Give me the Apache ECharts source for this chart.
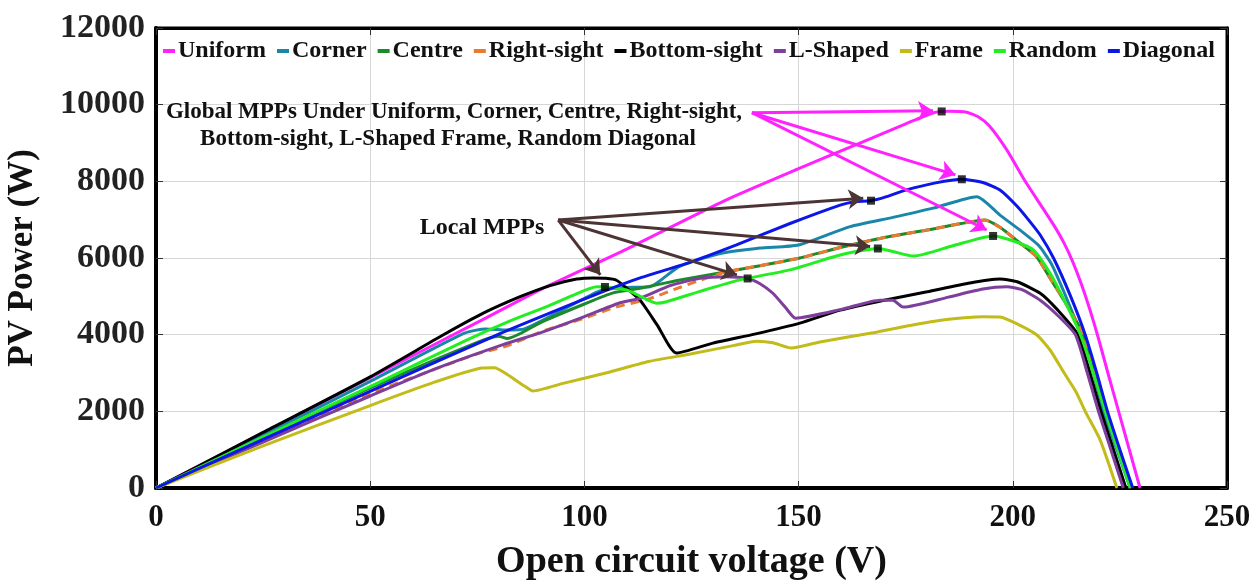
<!DOCTYPE html>
<html>
<head>
<meta charset="utf-8">
<title>PV Power vs Voltage</title>
<script src="https://cdn.jsdelivr.net/npm/echarts@6/dist/echarts.min.js"></script>
<style>
  html, body { margin: 0; padding: 0; background: #ffffff; }
  #chart { width: 1256px; height: 581px; }
</style>
</head>
<body>
<div id="chart"></div>
<script>
// ---- P–V curves for each shading pattern: [voltage (V), power (W)] ----
const uniformPts = [[0,0],[25,1440],[50,2880],[75,4320],[90,5190],[110,6240],[133,7510],[150,8330],[165,9030],[175,9500],[181.5,9790],[185,9830],[189,9810],[192,9680],[194.5,9450],[198.6,8820],[202.9,8000],[207,7300],[210,6780],[212,6380],[214,5900],[216,5320],[218,4650],[220,3900],[222.2,3000],[224.7,2000],[227.2,1000],[229.7,0]];
const cornerPts = [[0,0],[25,1380],[50,2780],[72,4040],[77,4150],[82,4120],[86,4150],[95,4650],[103.6,5140],[109,5230],[115.3,5250],[122,5770],[131,6100],[141,6260],[150,6340],[162,6820],[172,7060],[181.4,7300],[191.6,7600],[197,7120],[202,6700],[206,6330],[209,5850],[212,5100],[214.2,4500],[216.1,4000],[218.8,3000],[221.2,2000],[224.3,1000],[227.4,0]];
const centrePts = [[0,0],[25,1310],[50,2610],[75,3800],[80,3960],[82,3900],[90,4330],[100,4800],[106.7,5090],[113,5210],[122,5420],[133.2,5640],[141,5800],[150.3,6000],[160,6280],[169,6510],[180,6730],[188,6900],[193.5,6990],[197,6800],[201,6450],[205.5,6040],[209,5420],[213,4700],[216.5,4000],[219.2,3000],[221.8,2000],[224.7,1000],[227.6,0]];
const rightSightPts = [[0,0],[25,1240],[50,2460],[75,3500],[81.8,3700],[90,4080],[100,4430],[106.7,4700],[115,4930],[121,5180],[127,5420],[133.2,5640],[141,5800],[150.3,6000],[160,6280],[169,6510],[180,6730],[188,6900],[193.5,6990],[197,6800],[201,6450],[205.5,6040],[209,5420],[213,4700],[216.5,4000],[219.2,3000],[221.8,2000],[224.7,1000],[227.6,0]];
const bottomSightPts = [[0,0],[25,1450],[50,2900],[67,3990],[76.4,4560],[85,4990],[92,5280],[98.2,5450],[102,5480],[105,5470],[107.5,5420],[110,5200],[113,4900],[117,4250],[121.5,3520],[130,3780],[140,4020],[150.3,4300],[159.7,4640],[170,4900],[180,5120],[190,5350],[197,5450],[201,5380],[206.4,5080],[210.5,4640],[215.2,4000],[218,3000],[220.6,2000],[223.5,1000],[226.4,0]];
const lShapedPts = [[0,0],[25,1200],[50,2400],[65,3100],[81,3740],[90,4060],[100,4470],[108,4820],[113,4950],[120,5280],[127,5470],[133,5510],[138.1,5466],[141,5330],[144,5080],[147,4700],[149.3,4430],[160,4660],[169,4900],[172,4900],[174.4,4720],[185,4980],[193,5190],[198.6,5250],[202,5180],[206.4,4900],[210.5,4500],[214.6,4000],[217.4,3000],[220,2000],[222.9,1000],[225.8,0]];
const framePts = [[0,0],[25,1100],[50,2150],[65,2760],[76,3130],[79,3140],[82,2960],[86,2660],[88,2530],[95,2730],[105,3000],[115,3300],[125,3500],[135,3720],[140.2,3830],[144,3790],[148.3,3650],[155,3810],[167.4,4050],[175,4220],[185,4400],[193,4470],[197,4460],[201,4280],[205.6,3990],[208.7,3600],[212,3000],[214.8,2500],[216.9,2000],[220.4,1250],[224.3,0]];
const randomPts = [[0,0],[25,1330],[52.3,2770],[72.5,3860],[82,4330],[91.2,4730],[98,5060],[102.9,5250],[104.8,5244],[109.9,5166],[114,4950],[116.9,4820],[119.2,4860],[127,5130],[136.3,5430],[148,5690],[159.7,6080],[168.5,6248],[172,6170],[176.8,6050],[186,6320],[195.4,6575],[200,6450],[204.8,6210],[208.7,5600],[212,4900],[215.8,4000],[218.8,3000],[221.6,2000],[224.5,1000],[227.4,0]];
const diagonalPts = [[0,0],[25,1270],[52.3,2640],[79.5,3990],[89.6,4460],[103.6,5090],[113,5480],[125,5900],[135.5,6340],[148,6900],[159.7,7380],[163,7470],[166.9,7495],[170,7580],[175,7770],[182,7960],[188.1,8054],[193,7970],[197,7775],[201,7350],[204,6950],[206.4,6600],[209.5,6000],[213.5,5000],[216.9,4000],[219.6,3000],[222.1,2000],[225,1000],[228,0]];

// ---- maximum power points ----
const globalMpps = [[183.4,9823],[188.1,8054],[195.4,6575]];
const localMpps = [[104.8,5244],[138.1,5466],[166.9,7495],[168.5,6248]];

// ---- annotation arrows: shared tail, one head per target ----
const globalArrowTail = [139.1,9790];
const globalArrowHeads = [[181.4,9840],[186.6,8170],[193.9,6730]];
const localArrowTail = [93.9,6990];
const localArrowHeads = [[165.1,7560],[166.7,6300],[135.6,5560],[103.7,5560]];

// ---- axis ticks ----
const xTicks = [0,50,100,150,200,250];
const yTicks = [0,2000,4000,6000,8000,10000,12000];

const seriesNames = ['Uniform','Corner','Centre','Right-sight','Bottom-sight','L-Shaped','Frame','Random','Diagonal'];
const seriesPts = [uniformPts,cornerPts,centrePts,rightSightPts,bottomSightPts,lShapedPts,framePts,randomPts,diagonalPts];
const seriesColors = ['#ff22ff','#1a86a8','#1c8a2c','#ea7a30','#000000','#7d3f9b','#c2bb1a','#22ee22','#0c16e6'];

const SERIF = '"Liberation Serif", "Times New Roman", serif';

const chart = echarts.init(document.getElementById('chart'), null, { renderer: 'canvas' });

const curveSeries = seriesNames.map((name, i) => ({
  name,
  type: 'line',
  data: seriesPts[i],
  showSymbol: false,
  smooth: 0.2,
  z: 2 + i * 0.01,
  lineStyle: {
    color: seriesColors[i],
    width: 3,
    type: name === 'Right-sight' ? [9, 6] : 'solid'
  },
  itemStyle: { color: seriesColors[i] }
}));

function arrowData(tail, heads) {
  return heads.map(h => ({ coords: [tail, h] }));
}

const option = {
  animation: false,
  backgroundColor: '#ffffff',
  grid: {
    left: 156, right: 29, top: 28, bottom: 93,
    outerBoundsMode: 'none',
    show: true, borderColor: '#000', borderWidth: 3, backgroundColor: 'transparent'
  },
  legend: {
    data: seriesNames,
    left: 158, top: 34,
    icon: 'rect',
    itemWidth: 12, itemHeight: 4, itemGap: 11,
    textStyle: { fontFamily: SERIF, fontWeight: 'bold', fontSize: 24, color: '#111', padding: [0, 0, 0, -2] }
  },
  xAxis: [{
    type: 'value', min: xTicks[0], max: xTicks[xTicks.length - 1], interval: 50,
    position: 'bottom',
    name: 'Open circuit voltage (V)', nameLocation: 'middle', nameGap: 55,
    nameTextStyle: { fontFamily: SERIF, fontWeight: 'bold', fontSize: 38, color: '#111' },
    axisLine: { show: true, onZero: false, lineStyle: { color: '#000', width: 4 } },
    axisTick: { show: true, inside: true, length: 7, lineStyle: { color: '#333', width: 1 } },
    axisLabel: { margin: 14, fontFamily: SERIF, fontWeight: 'bold', fontSize: 31, color: '#111' },
    splitLine: { show: true, lineStyle: { color: '#d6d6d6', width: 1 } }
  }, {
    type: 'value', min: xTicks[0], max: xTicks[xTicks.length - 1], interval: 50,
    position: 'top',
    axisLine: { show: true, onZero: false, lineStyle: { color: '#000', width: 3 } },
    axisTick: { show: true, inside: true, length: 7, lineStyle: { color: '#333', width: 1 } },
    axisLabel: { show: false },
    splitLine: { show: false }
  }],
  yAxis: [{
    type: 'value', min: yTicks[0], max: yTicks[yTicks.length - 1], interval: 2000,
    position: 'left',
    name: 'PV Power (W)', nameLocation: 'middle', nameGap: 116,
    nameTextStyle: { fontFamily: SERIF, fontWeight: 'bold', fontSize: 35, color: '#111' },
    axisLine: { show: true, onZero: false, lineStyle: { color: '#000', width: 4 } },
    axisTick: { show: true, inside: true, length: 7, lineStyle: { color: '#333', width: 1 } },
    axisLabel: { margin: 11, fontFamily: SERIF, fontWeight: 'bold', fontSize: 34, color: '#222', formatter: v => String(v) },
    splitLine: { show: true, lineStyle: { color: '#d6d6d6', width: 1 } }
  }, {
    type: 'value', min: yTicks[0], max: yTicks[yTicks.length - 1], interval: 2000,
    position: 'right',
    axisLine: { show: true, onZero: false, lineStyle: { color: '#000', width: 3 } },
    axisTick: { show: true, inside: true, length: 7, lineStyle: { color: '#333', width: 1 } },
    axisLabel: { show: false },
    splitLine: { show: false }
  }],
  series: [
    ...curveSeries,
    {
      name: 'Global MPP', type: 'scatter', data: globalMpps,
      symbol: 'rect', symbolSize: 8, itemStyle: { color: '#000' }, z: 5
    },
    {
      name: 'Local MPP', type: 'scatter', data: localMpps,
      symbol: 'rect', symbolSize: 8, itemStyle: { color: '#000' }, z: 5
    },
    {
      name: 'Global arrows', type: 'lines', coordinateSystem: 'cartesian2d',
      data: arrowData(globalArrowTail, globalArrowHeads),
      symbol: ['none', 'arrow'], symbolSize: 15,
      lineStyle: { color: '#ff22ff', width: 3, opacity: 1, curveness: 0 }, z: 6
    },
    {
      name: 'Local arrows', type: 'lines', coordinateSystem: 'cartesian2d',
      data: arrowData(localArrowTail, localArrowHeads),
      symbol: ['none', 'arrow'], symbolSize: 15,
      lineStyle: { color: '#4d3434', width: 3, opacity: 1, curveness: 0 }, z: 6
    }
  ],
  graphic: [
    {
      type: 'text', x: 454, y: 112, z: 10,
      style: { text: 'Global MPPs Under Uniform, Corner, Centre, Right-sight,', font: 'bold 23px ' + SERIF, fill: '#111', align: 'center', verticalAlign: 'middle' }
    },
    {
      type: 'text', x: 448, y: 139, z: 10,
      style: { text: 'Bottom-sight, L-Shaped Frame, Random Diagonal', font: 'bold 23px ' + SERIF, fill: '#111', align: 'center', verticalAlign: 'middle' }
    },
    {
      type: 'text', x: 482, y: 228, z: 10,
      style: { text: 'Local MPPs', font: 'bold 24px ' + SERIF, fill: '#111', align: 'center', verticalAlign: 'middle' }
    }
  ]
};

chart.setOption(option);
</script>
</body>
</html>
